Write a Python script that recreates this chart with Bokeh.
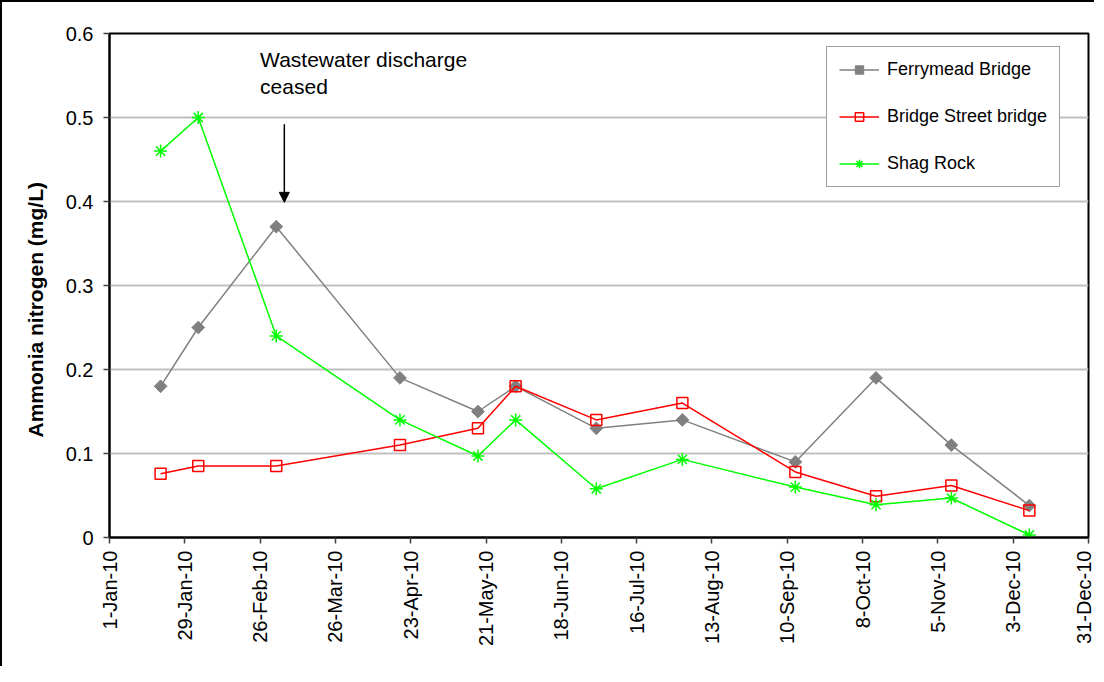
import math
import pandas as pd
from bokeh.plotting import figure
from bokeh.models import (Range1d, FixedTicker, Legend, LegendItem, Arrow,
                          NormalHead, Label, Title)
from bokeh.embed import file_html
from bokeh.resources import INLINE

# ---- data -------------------------------------------------------------
sample_dates = ["2010-01-20", "2010-02-03", "2010-03-04", "2010-04-19",
                "2010-05-18", "2010-06-01", "2010-07-01", "2010-08-02",
                "2010-09-13", "2010-10-13", "2010-11-10", "2010-12-09"]
ferrymead = [0.18, 0.25, 0.37, 0.19, 0.15, 0.18, 0.13, 0.14, 0.09, 0.19, 0.11, 0.038]
bridge_street = [0.076, 0.085, 0.085, 0.11, 0.13, 0.18, 0.14, 0.16, 0.078, 0.049, 0.062, 0.032]
shag_rock = [0.46, 0.50, 0.24, 0.14, 0.097, 0.14, 0.058, 0.093, 0.060, 0.039, 0.047, 0.003]

tick_dates = ["2010-01-01", "2010-01-29", "2010-02-26", "2010-03-26", "2010-04-23",
              "2010-05-21", "2010-06-18", "2010-07-16", "2010-08-13", "2010-09-10",
              "2010-10-08", "2010-11-05", "2010-12-03", "2010-12-31"]
tick_labels = ["1-Jan-10", "29-Jan-10", "26-Feb-10", "26-Mar-10", "23-Apr-10",
               "21-May-10", "18-Jun-10", "16-Jul-10", "13-Aug-10", "10-Sep-10",
               "8-Oct-10", "5-Nov-10", "3-Dec-10", "31-Dec-10"]
y_ticks = [0, 0.1, 0.2, 0.3, 0.4, 0.5, 0.6]
y_labels = ["0", "0.1", "0.2", "0.3", "0.4", "0.5", "0.6"]


def ms(d):
    return pd.Timestamp(d).value / 1e6


xs = [ms(d) for d in sample_dates]
xt = [ms(d) for d in tick_dates]

FONT = "Liberation Sans"

p = figure(width=1094, height=666, output_backend="svg", toolbar_location=None,
           x_range=Range1d(xt[0], xt[-1]), y_range=Range1d(0, 0.6),
           min_border_left=107, min_border_right=8, min_border_top=31,
           min_border_bottom=131)
p.styles = {"border-left": "2px solid black", "border-top": "2px solid black"}
p.background_fill_color = "white"
p.border_fill_color = "white"
p.outline_line_color = "black"
p.outline_line_width = 2

p.xgrid.visible = False
p.ygrid.grid_line_color = "#C0C0C0"
p.ygrid.grid_line_width = 2
p.ygrid.ticker = FixedTicker(ticks=y_ticks)

# axes
p.xaxis.ticker = FixedTicker(ticks=xt)
p.xaxis.major_label_overrides = {t: l for t, l in zip(xt, tick_labels)}
p.xaxis.major_label_orientation = math.pi / 2
p.yaxis.ticker = FixedTicker(ticks=y_ticks)
p.yaxis.major_label_overrides = {t: l for t, l in zip(y_ticks, y_labels)}
for ax in (p.xaxis[0], p.yaxis[0]):
    ax.axis_line_color = "black"
    ax.axis_line_width = 2
    ax.major_tick_line_color = "#404040"
    ax.major_tick_line_width = 1.5
    ax.major_tick_out = 6
    ax.major_tick_in = 0
    ax.minor_tick_line_color = None
    ax.major_label_text_font = FONT
    ax.major_label_text_color = "black"
p.xaxis.major_label_text_font_size = "20px"
p.xaxis.major_label_standoff = 7
p.yaxis.major_label_text_font_size = "20px"
p.yaxis.major_label_standoff = 10

# y-axis title (a side title, so it can sit a little below the frame centre)
p.add_layout(Title(text="Ammonia nitrogen (mg/L)", align="left", offset=100,
                   standoff=32, text_font=FONT, text_font_size="21px",
                   text_font_style="bold", text_color="black"), "left")

# series
GRAY, RED, GREEN = "#808080", "#FF0000", "#00FF00"
l1 = p.line(xs, ferrymead, line_color=GRAY, line_width=1.5)
m1 = p.scatter(xs, ferrymead, marker="square", angle=math.pi / 4, size=9,
               fill_color=GRAY, line_color=GRAY)
l2 = p.line(xs, bridge_street, line_color=RED, line_width=1.5)
m2 = p.scatter(xs, bridge_street, marker="square", size=11, fill_color=None,
               line_color=RED, line_width=1.5)
l3 = p.line(xs, shag_rock, line_color=GREEN, line_width=1.5)
m3 = p.scatter(xs, shag_rock, marker="asterisk", size=13, line_color=GREEN,
               line_width=1.5)

legend = Legend(items=[LegendItem(label="Ferrymead Bridge", renderers=[l1, m1]),
                       LegendItem(label="Bridge Street bridge", renderers=[l2, m2]),
                       LegendItem(label="Shag Rock", renderers=[l3, m3])],
                location=(717, 350))
legend.label_text_font = FONT
legend.label_text_font_size = "18px"
legend.label_text_color = "black"
legend.border_line_color = "#404040"
legend.border_line_width = 1.5
legend.background_fill_color = "white"
legend.background_fill_alpha = 1
legend.padding = 12
legend.spacing = 26
legend.glyph_height = 21
legend.label_height = 21
legend.glyph_width = 40
legend.label_standoff = 8
legend.margin = 0
p.add_layout(legend)

# annotation
p.add_layout(Arrow(end=NormalHead(size=10, fill_color="black", line_color="black"),
                   x_start=ms("2010-03-07"), y_start=0.492,
                   x_end=ms("2010-03-07"), y_end=0.399,
                   line_color="black", line_width=1.5))
for txt, yy in (("Wastewater discharge", 0.583), ("ceased", 0.551)):
    p.add_layout(Label(x=ms("2010-02-26"), y=yy, text=txt, text_baseline="top",
                       text_font=FONT, text_font_size="21px", text_color="black"))

open("out.html", "w").write(file_html(p, INLINE))
